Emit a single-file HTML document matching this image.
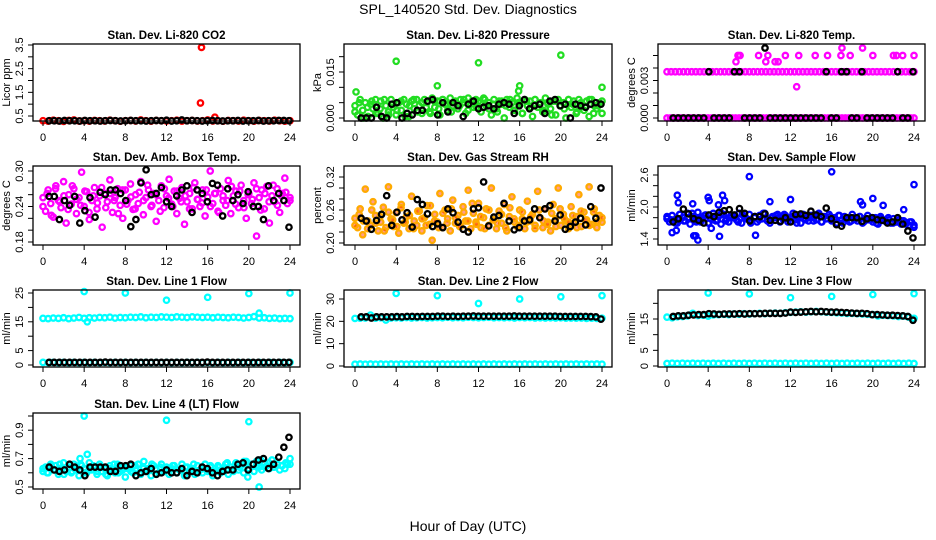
<!DOCTYPE html>
<html><head><meta charset="utf-8">
<style>
html,body{margin:0;padding:0;background:#fff;}
svg{display:block;font-family:"Liberation Sans",sans-serif;}
</style></head>
<body>
<svg id="chart" width="936" height="540" viewBox="0 0 936 540" xmlns="http://www.w3.org/2000/svg">
<rect width="936" height="540" fill="#fff"/>
<text x="468" y="14" text-anchor="middle" font-size="14">SPL_140520  Std. Dev. Diagnostics</text>
<text x="468" y="531" text-anchor="middle" font-size="14">Hour of Day (UTC)</text>
</svg>
<script>
// ---------- data ----------
const hourTicks = [0,4,8,12,16,20,24];

const co2Red = [0.30,0.28,0.32,0.30,0.27,0.31,0.33,0.29,0.30,0.28,0.31,0.30,0.29,0.32,0.30,0.28,0.30,0.31,0.29,0.33,0.30,0.28,0.31,0.30,0.29,0.30,0.32,0.28,0.30,0.31,0.29,0.30,0.33,0.29,0.30,0.28,0.31,0.30,0.29,0.32,0.30,0.28,0.31,0.30,0.29,0.32,0.30,0.28,0.30];
const co2Black = [0.30,0.30,0.29,0.31,0.30,0.30,0.29,0.31,0.30,0.30,0.29,0.30,0.31,0.30,0.29,0.30,0.31,0.30,0.30,0.29,0.30,0.31,0.30,0.32,0.29,0.30,0.33,0.30,0.31,0.30,0.29,0.30,0.31,0.30,0.29,0.30,0.30,0.31,0.29,0.30,0.30,0.31,0.29,0.30,0.30,0.31,0.31,0.30];
const co2OutX = [15.4,15.3,16.7];
const co2OutY = [3.4,1.05,0.45];

const pressGreen = [0.0040,0.0010,0.0060,0.0025,0.0050,0.0005,0.0045,0.0030,0.0060,0.0015,0.0055,0.0000,0.0040,0.0020,0.0060,0.0035,0.0010,0.0050,0.0025,0.0060,0.0045,0.0005,0.0055,0.0030,0.0060,0.0040,0.0015,0.0060,0.0050,0.0020,0.0065,0.0035,0.0055,0.0010,0.0060,0.0045,0.0025,0.0065,0.0040,0.0055,0.0030,0.0060,0.0050,0.0015,0.0065,0.0045,0.0035,0.0060,0.0055,0.0020,0.0065,0.0040,0.0050,0.0010,0.0060,0.0030,0.0055,0.0045,0.0000,0.0060,0.0035,0.0050,0.0025,0.0065,0.0045,0.0015,0.0060,0.0040,0.0055,0.0005,0.0060,0.0035,0.0050,0.0020,0.0065,0.0045,0.0030,0.0055,0.0010,0.0060,0.0040,0.0050,0.0000,0.0060,0.0035,0.0055,0.0015,0.0060,0.0045,0.0025,0.0055,0.0005,0.0060,0.0040,0.0030,0.0050,0.0015];
const pressGreen2 = [0.0020,0.0050,0.0000,0.0035,0.0055,0.0015,0.0030,0.0060,0.0010,0.0045,0.0025,0.0055,0.0005,0.0040,0.0060,0.0020,0.0050,0.0035,0.0015,0.0055,0.0030,0.0060,0.0045,0.0020,0.0050,0.0040,0.0060,0.0025,0.0055,0.0035,0.0050,0.0060,0.0030,0.0045,0.0020,0.0055,0.0040,0.0060,0.0025,0.0050,0.0015,0.0055,0.0035,0.0060,0.0045,0.0025,0.0050,0.0010,0.0055,0.0040,0.0030,0.0060,0.0045,0.0020,0.0050,0.0035,0.0060,0.0015,0.0040,0.0055];
const pressBlack = [0.0000,0.0000,0.0000,0.0035,0.0005,0.0000,0.0045,0.0050,0.0000,0.0015,0.0010,0.0025,0.0025,0.0055,0.0060,0.0010,0.0050,0.0020,0.0050,0.0040,0.0005,0.0045,0.0055,0.0030,0.0035,0.0040,0.0030,0.0045,0.0050,0.0045,0.0015,0.0040,0.0060,0.0030,0.0040,0.0045,0.0015,0.0055,0.0060,0.0040,0.0045,0.0000,0.0045,0.0040,0.0035,0.0045,0.0050,0.0045];
const pressOutX = [0.1,4,8,12,16,15.9,20,24];
const pressOutY = [0.0085,0.0185,0.0105,0.018,0.0105,0.0088,0.0205,0.010];

const tempLow = [0,0,0,0,0,0,0,0,0,0,0,0,0,0,0,0,0,0,0,0,0,0,0,0,0,0,0,0,0,0,0,0,0,0,0,0,0,0,0,0,0,0,0,0,0,0,0,0,0,0,0,0,0,0,0,0,0,0,0,0,0,0,0,0,0,0,0,0,0,0,0,0,0];
const tempHigh = [0.0037,0.0037,0.0037,0.0037,0.0037,0.0037,0.0037,0.0037,0.0037,0.0037,0.0037,0.0037,0.0037,0.0037,0.0037,0.0037,0.0037,0.0037,0.0037,0.0037,0.0037,0.0037,0.0037,0.0037,0.0037,0.0037,0.0037,0.0037,0.0037,0.0037,0.0037,0.0037,0.0037,0.0037,0.0037,0.0037,0.0037,0.0037,0.0037,0.0037,0.0037,0.0037,0.0037,0.0037,0.0037,0.0037,0.0037,0.0037,0.0037,0.0037,0.0037,0.0037,0.0037,0.0037,0.0037,0.0037,0.0037,0.0037,0.0037,0.0037,0.0037];
const tempBlack = [0,0,0,0,0,0,0,0.0037,0,0,0,0,0.0037,0.0037,0,0,0,0,0.0056,0,0,0,0,0,0,0,0,0,0,0,0.0037,0,0,0.0037,0.0037,0,0,0.0037,0,0,0,0,0,0,0.0037,0,0,0.0037];
const tempOutX = [6.7,6.9,7.1,8.9,9.6,9.8,10.5,10.8,11.5,12.8,14.4,15.6,16.9,17.0,17.8,19.0,20.0,22.0,22.3,22.9,24,12.6];
const tempOutY = [0.0045,0.005,0.005,0.005,0.0045,0.005,0.0045,0.0045,0.005,0.005,0.005,0.005,0.005,0.0056,0.005,0.0056,0.005,0.005,0.005,0.005,0.005,0.0025];

const ambMag = [0.255,0.232,0.268,0.245,0.222,0.275,0.250,0.238,0.282,0.212,0.260,0.244,0.270,0.228,0.255,0.298,0.240,0.265,0.218,0.250,0.272,0.236,0.258,0.205,0.262,0.248,0.285,0.230,0.255,0.270,0.242,0.220,0.268,0.250,0.278,0.235,0.260,0.245,0.282,0.226,0.255,0.268,0.240,0.262,0.215,0.250,0.275,0.238,0.258,0.286,0.244,0.266,0.228,0.254,0.272,0.210,0.248,0.262,0.236,0.280,0.252,0.240,0.268,0.224,0.256,0.300,0.245,0.262,0.232,0.270,0.250,0.242,0.284,0.228,0.258,0.266,0.238,0.276,0.250,0.220,0.262,0.245,0.280,0.190,0.255,0.268,0.236,0.274,0.212,0.258,0.248,0.270,0.230,0.262,0.288,0.245,0.255];
const ambMag2 = [0.240,0.262,0.225,0.270,0.248,0.258,0.235,0.275,0.252,0.242,0.266,0.230,0.258,0.246,0.272,0.238,0.262,0.250,0.228,0.268,0.244,0.256,0.236,0.264,0.250,0.276,0.242,0.260,0.232,0.270,0.254,0.240,0.266,0.248,0.258,0.236,0.272,0.252,0.246,0.268,0.240,0.262,0.230,0.258,0.250,0.274,0.244,0.266,0.238,0.260,0.252,0.270,0.234,0.262,0.248,0.276,0.242,0.258,0.264,0.250];
const ambBlack = [0.257,0.257,0.218,0.250,0.242,0.257,0.212,0.233,0.255,0.222,0.264,0.260,0.268,0.268,0.262,0.250,0.206,0.218,0.280,0.302,0.260,0.262,0.272,0.248,0.240,0.258,0.268,0.275,0.230,0.268,0.262,0.248,0.279,0.276,0.224,0.270,0.250,0.260,0.245,0.265,0.240,0.240,0.218,0.275,0.250,0.262,0.250,0.205];

const rhOrange = [0.245,0.228,0.262,0.215,0.298,0.240,0.232,0.275,0.250,0.222,0.238,0.265,0.228,0.302,0.244,0.230,0.255,0.218,0.270,0.236,0.248,0.226,0.285,0.240,0.232,0.258,0.222,0.246,0.268,0.234,0.205,0.252,0.238,0.290,0.228,0.260,0.244,0.222,0.278,0.236,0.250,0.230,0.266,0.240,0.296,0.226,0.254,0.238,0.272,0.228,0.246,0.262,0.232,0.300,0.242,0.226,0.258,0.236,0.270,0.222,0.248,0.284,0.238,0.230,0.260,0.244,0.226,0.276,0.240,0.252,0.232,0.294,0.246,0.228,0.262,0.238,0.222,0.270,0.244,0.300,0.232,0.252,0.240,0.226,0.266,0.236,0.248,0.288,0.230,0.256,0.242,0.302,0.234,0.262,0.228,0.250,0.238];
const rhOrange2 = [0.232,0.252,0.240,0.226,0.260,0.236,0.248,0.222,0.256,0.242,0.230,0.264,0.238,0.250,0.226,0.258,0.244,0.232,0.268,0.240,0.228,0.254,0.236,0.262,0.246,0.230,0.256,0.240,0.272,0.234,0.248,0.226,0.260,0.242,0.236,0.252,0.228,0.264,0.244,0.232,0.256,0.238,0.248,0.226,0.260,0.240,0.234,0.254,0.230,0.262,0.244,0.238,0.250,0.228,0.258,0.242,0.232,0.256,0.240,0.246];
const rhBlack = [0.245,0.240,0.225,0.241,0.252,0.286,0.232,0.256,0.242,0.255,0.229,0.279,0.270,0.253,0.230,0.235,0.228,0.262,0.255,0.238,0.225,0.220,0.262,0.264,0.311,0.231,0.247,0.250,0.272,0.240,0.224,0.228,0.240,0.242,0.262,0.246,0.262,0.268,0.240,0.251,0.225,0.230,0.238,0.245,0.233,0.266,0.245,0.300];

const flowBlue = [1.78,1.72,1.84,1.76,1.70,1.86,1.80,1.74,1.88,1.68,1.82,1.76,1.90,1.72,1.80,1.85,1.70,1.78,1.88,1.74,1.82,1.68,1.86,1.78,1.72,1.84,1.80,1.76,1.88,1.70,1.82,1.78,1.86,1.74,1.80,1.72,1.84,1.78,1.88,1.76,1.70,1.82,1.80,1.86,1.74,1.78,1.84,1.72,1.80,1.88,1.76,1.82,1.70,1.86,1.78,1.74,1.84,1.80,1.76,1.88,1.72,1.82,1.78,1.86,1.74,1.80,1.70,1.84,1.76,1.82,1.78,1.72,1.86,1.80,1.74,1.82,1.70,1.78,1.84,1.76,1.72,1.80,1.68,1.82,1.76,1.74,1.80,1.70,1.78,1.72,1.76,1.68,1.74,1.70,1.66,1.72,1.62];
const flowBlue2 = [1.82,1.76,1.70,1.86,1.74,1.80,1.88,1.72,1.78,1.84,1.70,1.82,1.76,1.88,1.74,1.80,1.84,1.72,1.86,1.78,1.70,1.82,1.76,1.88,1.74,1.80,1.84,1.72,1.86,1.78,1.82,1.70,1.84,1.76,1.80,1.74,1.86,1.72,1.78,1.82,1.76,1.84,1.70,1.80,1.74,1.78,1.82,1.72,1.76,1.80,1.70,1.78,1.74,1.76,1.70,1.72,1.74,1.68,1.72,1.66];
const flowBlack = [1.72,1.78,1.96,1.87,1.78,1.75,1.70,1.85,1.82,1.90,1.93,1.95,1.85,1.97,1.88,1.74,1.82,1.82,1.87,1.75,1.75,1.73,1.80,1.72,1.86,1.87,1.84,1.92,1.85,1.82,1.98,1.78,1.67,1.64,1.80,1.80,1.80,1.73,1.78,1.80,1.76,1.75,1.70,1.72,1.80,1.68,1.55,1.42];
const flowOutX = [0.5,0.9,1.0,1.1,2.5,2.6,2.8,3.0,3.1,4.0,4.1,4.3,5.0,5.1,5.4,5.6,8.0,8.6,10.0,12.0,16.0,18.8,20.0,21.0,24.0,23.0,19.0];
const flowOutY = [1.52,1.56,2.22,2.08,2.06,1.46,1.46,1.38,1.80,2.18,2.12,1.60,2.04,1.45,2.22,2.12,2.57,1.47,2.10,2.14,2.66,2.10,2.16,2.03,2.42,1.95,2.04];

const line1Cyan = [16.2,16.1,16.3,16.2,16.4,16.1,16.3,16.5,16.2,16.4,16.3,16.5,16.4,16.6,16.3,16.5,16.4,16.6,16.5,16.7,16.4,16.6,16.5,16.7,16.6,16.5,16.7,16.6,16.5,16.7,16.6,16.5,16.6,16.4,16.6,16.5,16.4,16.6,16.5,16.3,16.5,16.8,16.3,16.4,16.2,16.3,16.1,16.2,16.1];
const line1Low = [0.9,0.8,0.9,0.8,0.9,0.8,0.9,0.8,0.9,0.8,0.9,0.8,0.9,0.8,0.9,0.8,0.9,0.8,0.9,0.8,0.9,0.8,0.9,0.8,0.9,0.8,0.9,0.8,0.9,0.8,0.9,0.8,0.9,0.8,0.9,0.8,0.9,0.8,0.9,0.8,0.9,0.8,0.9,0.8,0.9,0.8,0.9,0.8,0.9];
const line1Black = [0.9,0.9,0.9,0.9,0.9,0.9,0.9,0.9,0.9,0.9,0.9,1.0,0.9,0.9,0.9,0.9,0.9,0.9,0.9,0.9,0.9,0.9,0.9,0.9,0.9,0.9,0.9,0.9,0.9,0.9,0.9,1.0,0.9,0.9,0.9,0.9,0.9,0.9,0.9,0.9,0.9,0.9,0.9,0.9,0.9,0.9,0.9,0.9];
const line1OutX = [4,8,12,16,20,24,21,4.3];
const line1OutY = [25.5,25,22.5,23.5,24.8,25,18,15];

const line2Cyan = [21.3,21.4,21.5,22.8,21.4,21.6,20.6,21.5,21.6,21.5,21.7,21.5,21.6,21.7,21.5,21.6,21.7,21.6,21.8,21.6,21.7,21.6,21.8,21.7,21.6,21.7,21.8,21.6,21.7,21.6,21.7,21.5,21.7,21.6,21.7,21.5,21.6,21.5,21.6,21.5,21.6,21.4,21.5,21.4,21.5,21.3,21.4,21.3,21.4];
const line2Low = [0.8,0.9,0.8,0.9,0.8,0.9,0.8,0.9,0.8,0.9,0.8,0.9,0.8,0.9,0.8,0.9,0.8,0.9,0.8,0.9,0.8,0.9,0.8,0.9,0.8,0.9,0.8,0.9,0.8,0.9,0.8,0.9,0.8,0.9,0.8,0.9,0.8,0.9,0.8,0.9,0.8,0.9,0.8,0.9,0.8,0.9,0.8,0.9,0.8];
const line2Black = [22.0,22.0,21.5,22.0,22.0,22.0,22.0,22.1,22.0,22.2,22.2,22.1,22.2,22.2,22.2,22.3,22.3,22.2,22.3,22.2,22.3,22.3,22.4,22.3,22.3,22.3,22.3,22.3,22.3,22.3,22.4,22.3,22.3,22.3,22.3,22.3,22.3,22.3,22.3,22.2,22.2,22.2,22.2,22.2,22.2,22.1,22.0,21.0];
const line2OutX = [4,8,12,16,20,24];
const line2OutY = [32.5,31.5,28,30,31,31.5];

const line3Cyan = [15.6,15.4,15.7,15.8,16.0,16.8,16.1,16.2,15.9,16.3,16.4,16.5,16.4,16.6,16.5,16.7,16.6,16.7,16.8,16.7,16.8,16.9,16.8,17.0,17.1,17.2,17.3,17.2,17.3,17.4,17.3,17.2,17.1,17.0,16.9,16.8,16.8,16.7,16.6,16.5,16.4,16.0,16.2,16.1,16.0,15.8,15.9,15.6,15.2];
const line3Low = [0.8,0.9,0.8,0.9,0.8,0.9,0.8,0.9,0.8,0.9,0.8,0.9,0.8,0.9,0.8,0.9,0.8,0.9,0.8,0.9,0.8,0.9,0.8,0.9,0.8,0.9,0.8,0.9,0.8,0.9,0.8,0.9,0.8,0.9,0.8,0.9,0.8,0.9,0.8,0.9,0.8,0.9,0.8,0.9,0.8,0.9,0.8,0.9,0.8];
const line3Black = [15.8,16.0,16.0,16.2,16.3,16.4,16.4,16.7,16.6,16.5,16.6,16.6,16.6,16.7,16.6,16.7,16.7,16.7,16.8,16.8,16.8,16.8,16.9,17.2,17.1,17.2,17.3,17.4,17.3,17.4,17.3,17.2,17.2,17.1,17.0,16.9,16.8,16.8,16.7,16.4,16.4,16.3,16.2,16.2,16.1,16.0,15.8,14.6];
const line3OutX = [4,8,12,16,20,24];
const line3OutY = [23.3,23.0,21.8,22.2,22.8,23.1];

const line4Cyan = [0.61,0.64,0.60,0.66,0.62,0.65,0.59,0.63,0.67,0.61,0.64,0.60,0.66,0.62,0.58,0.65,0.63,0.60,0.67,0.62,0.64,0.59,0.66,0.61,0.63,0.58,0.65,0.62,0.60,0.66,0.61,0.64,0.57,0.63,0.65,0.60,0.62,0.66,0.59,0.64,0.61,0.63,0.58,0.65,0.62,0.60,0.66,0.61,0.64,0.59,0.63,0.65,0.60,0.62,0.66,0.58,0.64,0.61,0.63,0.59,0.65,0.62,0.60,0.66,0.61,0.64,0.58,0.63,0.65,0.60,0.62,0.66,0.59,0.64,0.61,0.67,0.62,0.65,0.60,0.68,0.63,0.66,0.61,0.68,0.64,0.62,0.67,0.65,0.63,0.69,0.64,0.66,0.62,0.65,0.63,0.66,0.70];
const line4Cyan2 = [0.63,0.60,0.65,0.62,0.66,0.59,0.64,0.61,0.63,0.66,0.60,0.62,0.65,0.61,0.64,0.59,0.63,0.66,0.60,0.62,0.64,0.61,0.65,0.60,0.63,0.62,0.66,0.59,0.64,0.61,0.63,0.65,0.60,0.62,0.64,0.61,0.66,0.60,0.63,0.62,0.65,0.61,0.64,0.63,0.67,0.62,0.66,0.64,0.68,0.63,0.66,0.65,0.69,0.64,0.67,0.64,0.66,0.65,0.67,0.66];
const line4Black = [0.64,0.62,0.61,0.62,0.66,0.64,0.62,0.58,0.64,0.64,0.64,0.64,0.61,0.61,0.65,0.65,0.66,0.58,0.60,0.61,0.63,0.59,0.60,0.62,0.60,0.60,0.63,0.58,0.61,0.60,0.64,0.63,0.60,0.58,0.61,0.62,0.62,0.66,0.67,0.62,0.66,0.69,0.70,0.63,0.66,0.71,0.78,0.85];
const line4OutX = [4,12,20,21,4.3,3.6,9.8,19.9];
const line4OutY = [1.0,0.97,0.96,0.5,0.73,0.70,0.68,0.57];

// ---------- layout ----------
const svg = document.getElementById('chart');
const NS = 'http://www.w3.org/2000/svg';
const colL = [33,344,658], colR = [300,612,925], colX0 = [43,355,667], colX24 = [290,602,914];
const rowT = [44,166,290,413], rowB = [121,245,367,489];
const R_PT = 2.7, SW = 2.3;

function mk(tag, attrs){ const e=document.createElementNS(NS,tag); for(const k in attrs) e.setAttribute(k,attrs[k]); return e; }

const panels = [
 {name:'co2', title:'Stan. Dev. Li-820 CO2', ylab:'Licor ppm', r:0,c:0, v0:0.5,p0:116,v1:3.5,p1:45,
  ticks:[0.5,1,1.5,2,2.5,3,3.5], labels:[[0.5,'0.5'],[1.5,'1.5'],[2.5,'2.5'],[3.5,'3.5']],
  series:[{d:co2Red,col:'#ff0000'}], black:co2Black, out:[co2OutX,co2OutY,'#ff0000']},
 {name:'pressure', title:'Stan. Dev. Li-820 Pressure', ylab:'kPa', r:0,c:1, v0:0,p0:118,v1:0.015,p1:72,
  ticks:[0,0.005,0.01,0.015,0.02], labels:[[0,'0.000'],[0.015,'0.015']],
  series:[{d:pressGreen,col:'#22dd22'},{d:pressGreen2,col:'#22dd22'}], black:pressBlack, out:[pressOutX,pressOutY,'#22dd22']},
 {name:'li820-temp', title:'Stan. Dev. Li-820 Temp.', ylab:'degrees C', r:0,c:2, v0:0,p0:118,v1:0.005,p1:55.5,
  ticks:[0,0.001,0.002,0.003,0.004,0.005], labels:[[0,'0.000'],[0.003,'0.003']],
  series:[{d:tempLow,col:'#ff00ff'},{d:tempHigh,col:'#ff00ff'}], black:tempBlack, out:[tempOutX,tempOutY,'#ff00ff']},
 {name:'amb-box-temp', title:'Stan. Dev. Amb. Box Temp.', ylab:'degrees C', r:1,c:0, v0:0.18,p0:242,v1:0.30,p1:171,
  ticks:[0.18,0.20,0.22,0.24,0.26,0.28,0.30], labels:[[0.18,'0.18'],[0.24,'0.24'],[0.30,'0.30']],
  series:[{d:ambMag,col:'#ff00ff'},{d:ambMag2,col:'#ff00ff'}], black:ambBlack, out:null},
 {name:'gas-stream-rh', title:'Stan. Dev. Gas Stream RH', ylab:'percent', r:1,c:1, v0:0.20,p0:243,v1:0.32,p1:177,
  ticks:[0.20,0.22,0.24,0.26,0.28,0.30,0.32], labels:[[0.20,'0.20'],[0.26,'0.26'],[0.32,'0.32']],
  series:[{d:rhOrange,col:'#ffaa00',fill:'rgba(255,40,0,0.45)'},{d:rhOrange2,col:'#ffaa00',fill:'rgba(255,40,0,0.45)'}], black:rhBlack, out:null},
 {name:'sample-flow', title:'Stan. Dev. Sample Flow', ylab:'ml/min', r:1,c:2, v0:1.4,p0:239,v1:2.6,p1:175,
  ticks:[1.4,1.6,1.8,2.0,2.2,2.4,2.6], labels:[[1.4,'1.4'],[2.0,'2.0'],[2.6,'2.6']],
  series:[{d:flowBlue,col:'#0000ff'},{d:flowBlue2,col:'#0000ff'}], black:flowBlack, out:[flowOutX,flowOutY,'#0000ff']},
 {name:'line1-flow', title:'Stan. Dev. Line 1 Flow', ylab:'ml/min', r:2,c:0, v0:0,p0:365,v1:25,p1:293,
  ticks:[0,5,10,15,20,25], labels:[[0,'0'],[5,'5'],[15,'15'],[25,'25']],
  series:[{d:line1Cyan,col:'#00ffff'},{d:line1Low,col:'#00ffff'}], black:line1Black, out:[line1OutX,line1OutY,'#00ffff']},
 {name:'line2-flow', title:'Stan. Dev. Line 2 Flow', ylab:'ml/min', r:2,c:1, v0:0,p0:366,v1:30,p1:299,
  ticks:[0,10,20,30], labels:[[0,'0'],[10,'10'],[20,'20'],[30,'30']],
  series:[{d:line2Cyan,col:'#00ffff'},{d:line2Low,col:'#00ffff'}], black:line2Black, out:[line2OutX,line2OutY,'#00ffff']},
 {name:'line3-flow', title:'Stan. Dev. Line 3 Flow', ylab:'ml/min', r:2,c:2, v0:0,p0:366,v1:15,p1:319,
  ticks:[0,5,10,15,20], labels:[[0,'0'],[5,'5'],[15,'15']],
  series:[{d:line3Cyan,col:'#00ffff'},{d:line3Low,col:'#00ffff'}], black:line3Black, out:[line3OutX,line3OutY,'#00ffff']},
 {name:'line4-flow', title:'Stan. Dev. Line 4 (LT) Flow', ylab:'ml/min', r:3,c:0, v0:0.5,p0:487,v1:1.0,p1:416,
  ticks:[0.5,0.6,0.7,0.8,0.9,1.0], labels:[[0.5,'0.5'],[0.7,'0.7'],[0.9,'0.9']],
  series:[{d:line4Cyan,col:'#00ffff'},{d:line4Cyan2,col:'#00ffff'}], black:line4Black, out:[line4OutX,line4OutY,'#00ffff']}
];

panels.forEach(p=>{
  const L=colL[p.c], R=colR[p.c], T=rowT[p.r], B=rowB[p.r];
  const xs = h => colX0[p.c] + (colX24[p.c]-colX0[p.c]) * h / 24;
  const ys = v => p.p0 + (p.p1-p.p0) * (v-p.v0)/(p.v1-p.v0);
  const g = mk('g',{});
  
  
  svg.appendChild(g);

  const t = mk('text',{x:(L+R)/2, y:T-5, 'text-anchor':'middle','font-size':'11.5','font-weight':'bold'});
  
  
  t.textContent = p.title; g.appendChild(t);

  const yl = mk('text',{x:0,y:0,transform:`translate(${L-23},${(T+B)/2}) rotate(-90)`,'text-anchor':'middle','font-size':'11'});
  
  
  yl.textContent = p.ylab; g.appendChild(yl);

  const pts = mk('g',{fill:'none','stroke-width':String(SW)});
  
  
  g.appendChild(pts);
  p.series.forEach(s=>{
    const n=s.d.length;
    s.d.forEach((v,i)=>{
      const c = mk('circle',{cx:xs(24*i/(n-1)), cy:ys(v), r:R_PT, stroke:s.col, fill:s.fill||'none'});
      
      
      pts.appendChild(c);
    });
  });
  if(p.out){
    p.out[0].forEach((h,i)=>{
      const c = mk('circle',{cx:xs(h), cy:ys(p.out[1][i]), r:R_PT, stroke:p.out[2]});
      
      
      pts.appendChild(c);
    });
  }
  const nb=p.black.length;
  p.black.forEach((v,i)=>{
    const c = mk('circle',{cx:xs(0.6 + 23.3*i/(nb-1)), cy:ys(v), r:R_PT, stroke:'#000'});
    
    
    pts.appendChild(c);
  });

  const box = mk('rect',{x:L,y:T,width:R-L,height:B-T,fill:'none',stroke:'#000','stroke-width':'1.3'});
  
  
  g.appendChild(box);

  p.ticks.forEach(v=>{
    const tk = mk('line',{x1:L-5,x2:L,y1:ys(v),y2:ys(v),stroke:'#000','stroke-width':'1'});
    
    
    g.appendChild(tk);
  });
  p.labels.forEach(([v,s])=>{
    const tl = mk('text',{x:0,y:0,transform:`translate(${L-10},${ys(v)}) rotate(-90)`,'text-anchor':'middle','font-size':'11'});
    
    
    tl.textContent = s; g.appendChild(tl);
  });
  hourTicks.forEach(h=>{
    const tk = mk('line',{x1:xs(h),x2:xs(h),y1:B,y2:B+5,stroke:'#000','stroke-width':'1'});
    
    
    g.appendChild(tk);
    const tl = mk('text',{x:xs(h),y:B+20,'text-anchor':'middle','font-size':'11'});
    
    
    tl.textContent = String(h); g.appendChild(tl);
  });
});
</script>
</body></html>
